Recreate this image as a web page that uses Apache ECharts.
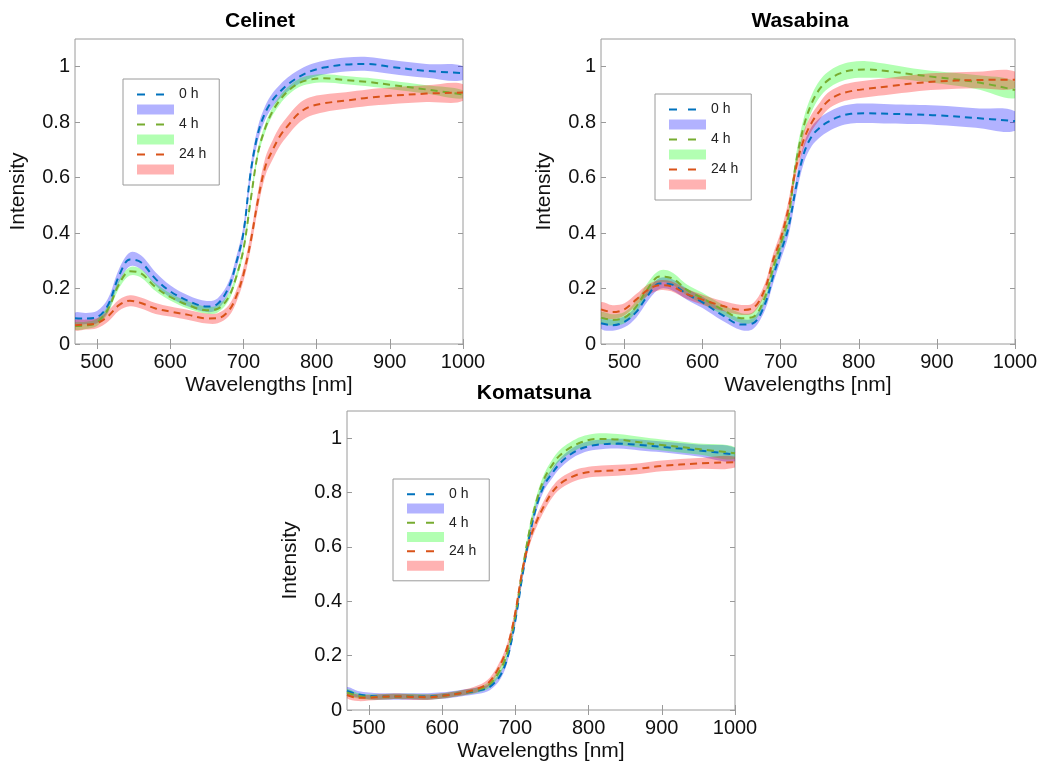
<!DOCTYPE html>
<html>
<head>
<meta charset="utf-8">
<title>Spectra</title>
<script src="https://cdn.jsdelivr.net/npm/echarts@6/dist/echarts.min.js"></script>
<style>
html, body { margin: 0; padding: 0; background: #fff; }
#chart { width: 1041px; height: 767px; }
</style>
</head>
<body>
<div id="chart"></div>
<script>
// wavelengths sampled along every curve
var wl = [470, 485, 500, 515, 530, 545, 560, 580, 600, 625, 650, 665, 680, 690, 700, 710, 720, 730, 740, 750, 760, 775, 790, 810, 840, 870, 900, 950, 1000];
var xTicks = [500, 600, 700, 800, 900, 1000];
var yTicks = [0, 0.2, 0.4, 0.6, 0.8, 1];
var hours = ['0 h', '4 h', '24 h'];
var titles = ['Celinet', 'Wasabina', 'Komatsuna'];

// Celinet mean + half band width
var cel0 = [0.093, 0.092, 0.097, 0.14, 0.245, 0.305, 0.295, 0.235, 0.19, 0.155, 0.135, 0.145, 0.205, 0.29, 0.40, 0.62, 0.76, 0.835, 0.88, 0.91, 0.935, 0.962, 0.982, 0.997, 1.008, 1.01, 1.0, 0.985, 0.977];
var cel0sd = [0.02, 0.02, 0.022, 0.024, 0.025, 0.025, 0.025, 0.024, 0.022, 0.02, 0.02, 0.02, 0.02, 0.022, 0.025, 0.025, 0.025, 0.025, 0.025, 0.025, 0.025, 0.025, 0.025, 0.025, 0.025, 0.025, 0.025, 0.025, 0.025];
var cel4 = [0.065, 0.067, 0.078, 0.125, 0.215, 0.262, 0.255, 0.205, 0.17, 0.14, 0.122, 0.127, 0.17, 0.24, 0.34, 0.52, 0.69, 0.78, 0.84, 0.88, 0.91, 0.94, 0.953, 0.958, 0.952, 0.945, 0.935, 0.918, 0.9];
var cel4sd = [0.013, 0.013, 0.013, 0.014, 0.015, 0.015, 0.015, 0.014, 0.013, 0.013, 0.013, 0.013, 0.013, 0.014, 0.015, 0.015, 0.015, 0.015, 0.015, 0.015, 0.015, 0.015, 0.015, 0.015, 0.015, 0.015, 0.015, 0.015, 0.015];
var cel24 = [0.068, 0.07, 0.075, 0.1, 0.14, 0.156, 0.148, 0.128, 0.117, 0.105, 0.092, 0.093, 0.12, 0.17, 0.25, 0.37, 0.52, 0.64, 0.70, 0.75, 0.785, 0.83, 0.855, 0.868, 0.878, 0.888, 0.895, 0.903, 0.907];
var cel24sd = [0.018, 0.018, 0.018, 0.02, 0.02, 0.02, 0.02, 0.02, 0.018, 0.018, 0.018, 0.018, 0.02, 0.022, 0.025, 0.028, 0.03, 0.033, 0.035, 0.035, 0.035, 0.035, 0.034, 0.032, 0.03, 0.03, 0.03, 0.03, 0.03];

// Wasabina
var was0 = [0.075, 0.068, 0.08, 0.115, 0.175, 0.218, 0.215, 0.18, 0.15, 0.105, 0.07, 0.075, 0.145, 0.24, 0.33, 0.42, 0.57, 0.69, 0.75, 0.78, 0.80, 0.82, 0.83, 0.832, 0.83, 0.828, 0.825, 0.815, 0.804];
var was0sd = [0.02, 0.02, 0.02, 0.02, 0.02, 0.02, 0.02, 0.02, 0.02, 0.02, 0.02, 0.02, 0.022, 0.025, 0.028, 0.03, 0.032, 0.034, 0.035, 0.035, 0.035, 0.035, 0.035, 0.035, 0.035, 0.035, 0.035, 0.035, 0.035];
var was4 = [0.095, 0.087, 0.095, 0.135, 0.2, 0.243, 0.238, 0.195, 0.165, 0.125, 0.093, 0.098, 0.17, 0.27, 0.36, 0.46, 0.66, 0.79, 0.87, 0.92, 0.95, 0.975, 0.987, 0.99, 0.983, 0.972, 0.962, 0.945, 0.916];
var was4sd = [0.02, 0.02, 0.02, 0.02, 0.022, 0.022, 0.022, 0.02, 0.02, 0.018, 0.018, 0.018, 0.02, 0.022, 0.025, 0.027, 0.028, 0.03, 0.03, 0.03, 0.03, 0.03, 0.03, 0.03, 0.025, 0.022, 0.022, 0.025, 0.03];
var was24 = [0.125, 0.115, 0.125, 0.16, 0.195, 0.212, 0.208, 0.18, 0.16, 0.138, 0.123, 0.13, 0.2, 0.3, 0.38, 0.49, 0.64, 0.74, 0.80, 0.84, 0.875, 0.9, 0.912, 0.92, 0.93, 0.94, 0.947, 0.952, 0.953];
var was24sd = [0.025, 0.025, 0.022, 0.02, 0.02, 0.018, 0.018, 0.018, 0.018, 0.018, 0.018, 0.018, 0.02, 0.022, 0.025, 0.027, 0.028, 0.03, 0.03, 0.03, 0.03, 0.03, 0.03, 0.03, 0.03, 0.03, 0.03, 0.03, 0.03];

// Komatsuna
var kom0 = [0.07, 0.058, 0.052, 0.05, 0.05, 0.05, 0.05, 0.05, 0.053, 0.062, 0.072, 0.085, 0.13, 0.2, 0.33, 0.5, 0.65, 0.76, 0.83, 0.87, 0.905, 0.94, 0.962, 0.975, 0.98, 0.975, 0.968, 0.955, 0.94];
var kom0sd = [0.014, 0.012, 0.012, 0.012, 0.012, 0.012, 0.012, 0.012, 0.012, 0.012, 0.012, 0.012, 0.014, 0.015, 0.016, 0.017, 0.018, 0.018, 0.018, 0.018, 0.018, 0.018, 0.018, 0.018, 0.018, 0.02, 0.02, 0.022, 0.025];
var kom4 = [0.065, 0.052, 0.048, 0.048, 0.05, 0.05, 0.05, 0.048, 0.052, 0.062, 0.075, 0.095, 0.15, 0.22, 0.35, 0.52, 0.67, 0.78, 0.855, 0.9, 0.935, 0.965, 0.985, 0.997, 0.995, 0.985, 0.975, 0.96, 0.945];
var kom4sd = [0.012, 0.01, 0.01, 0.01, 0.01, 0.01, 0.01, 0.01, 0.01, 0.01, 0.01, 0.012, 0.014, 0.015, 0.016, 0.017, 0.018, 0.018, 0.018, 0.02, 0.02, 0.02, 0.02, 0.02, 0.02, 0.02, 0.02, 0.02, 0.022];
var kom24 = [0.055, 0.045, 0.045, 0.048, 0.05, 0.05, 0.048, 0.047, 0.052, 0.062, 0.08, 0.105, 0.17, 0.24, 0.36, 0.52, 0.63, 0.7, 0.755, 0.8, 0.83, 0.855, 0.87, 0.878, 0.882, 0.888, 0.898, 0.907, 0.912];
var kom24sd = [0.012, 0.012, 0.01, 0.01, 0.01, 0.01, 0.01, 0.01, 0.01, 0.01, 0.012, 0.014, 0.015, 0.016, 0.018, 0.02, 0.02, 0.02, 0.02, 0.02, 0.02, 0.02, 0.02, 0.02, 0.02, 0.02, 0.02, 0.02, 0.02];

var means = [[cel0, cel4, cel24], [was0, was4, was24], [kom0, kom4, kom24]];
var spreads = [[cel0sd, cel4sd, cel24sd], [was0sd, was4sd, was24sd], [kom0sd, kom4sd, kom24sd]];

var lineColors = ['#0072BD', '#77AC30', '#D95319'];
var bandColors = ['rgba(0,0,255,0.3)', 'rgba(0,255,0,0.3)', 'rgba(255,0,0,0.3)'];
var FONT = '"Liberation Sans", Arial, sans-serif';
var BOX = '#9a9a9a';

var grids = [
	{ left: 75, top: 39, width: 388, height: 305 },
	{ left: 601, top: 39, width: 414, height: 305 },
	{ left: 347, top: 411, width: 388, height: 299 }
];
var legendPos = [
	{ left: 123, top: 79, lh: 15 },
	{ left: 655, top: 94, lh: 15 },
	{ left: 393, top: 479, lh: 14.3 }
];
var titlePos = [{ x: 260, y: 11 }, { x: 800, y: 11 }, { x: 534, y: 383 }];

function bandRenderer(mean, sd, fill) {
	return function (params, api) {
		var pts = [];
		for (var i = 0; i < wl.length; i++) {
			pts.push(api.coord([wl[i], mean[i] + sd[i]]));
		}
		for (var j = wl.length - 1; j >= 0; j--) {
			pts.push(api.coord([wl[j], mean[j] - sd[j]]));
		}
		var cs = params.coordSys;
		return {
			type: 'polygon',
			shape: { points: pts, smooth: 0.35 },
			style: { fill: fill, stroke: null },
			clipPath: { type: 'rect', shape: { x: cs.x, y: cs.y, width: cs.width, height: cs.height } }
		};
	};
}

var xAxes = [], yAxes = [], series = [], legends = [], titleList = [], gridList = [];
grids.forEach(function (g, gi) {
	gridList.push({ left: g.left, top: g.top, width: g.width, height: g.height,
		show: true, borderColor: BOX, borderWidth: 1, outerBoundsMode: 'none' });

	// bottom / top x axes (top one only carries the inside ticks)
	xAxes.push({
		type: 'value', gridIndex: gi, min: 470, max: 1000, position: 'bottom',
		name: 'Wavelengths [nm]', nameLocation: 'middle', nameGap: 31,
		nameTextStyle: { fontFamily: FONT, fontSize: 21, color: '#111' },
		axisLine: { show: false },
		axisTick: { inside: true, length: 5, customValues: xTicks, lineStyle: { color: BOX } },
		axisLabel: { customValues: xTicks, margin: 8, fontFamily: FONT, fontSize: 20, color: '#111',
			formatter: function (v) { return String(v); } },
		splitLine: { show: false }
	});
	xAxes.push({
		type: 'value', gridIndex: gi, min: 470, max: 1000, position: 'top',
		axisLine: { show: false },
		axisTick: { inside: true, length: 5, customValues: xTicks, lineStyle: { color: BOX } },
		axisLabel: { show: false },
		splitLine: { show: false }
	});
	yAxes.push({
		type: 'value', gridIndex: gi, min: 0, max: 1.1, position: 'left',
		name: 'Intensity', nameLocation: 'middle', nameGap: 46,
		nameTextStyle: { fontFamily: FONT, fontSize: 21, color: '#111' },
		axisLine: { show: false },
		axisTick: { inside: true, length: 5, customValues: yTicks, lineStyle: { color: BOX } },
		axisLabel: { customValues: yTicks, margin: 5, fontFamily: FONT, fontSize: 20, color: '#111',
			formatter: function (v) { return String(v); } },
		splitLine: { show: false }
	});
	yAxes.push({
		type: 'value', gridIndex: gi, min: 0, max: 1.1, position: 'right',
		axisLine: { show: false },
		axisTick: { inside: true, length: 5, customValues: yTicks, lineStyle: { color: BOX } },
		axisLabel: { show: false },
		splitLine: { show: false }
	});

	// shaded bands first, dashed means on top
	hours.forEach(function (h, k) {
		series.push({
			type: 'custom', name: h + ' SD', xAxisIndex: gi * 2, yAxisIndex: gi * 2,
			data: [[wl[0], means[gi][k][0]]], silent: true, z: 1,
			itemStyle: { color: bandColors[k] },
			renderItem: bandRenderer(means[gi][k], spreads[gi][k], bandColors[k])
		});
	});
	hours.forEach(function (h, k) {
		series.push({
			type: 'line', name: h, xAxisIndex: gi * 2, yAxisIndex: gi * 2,
			data: wl.map(function (x, i) { return [x, means[gi][k][i]]; }),
			smooth: 0.35, symbol: 'none', showSymbol: false, silent: true, z: 3,
			itemStyle: { color: lineColors[k] },
			lineStyle: { color: lineColors[k], width: 2, type: [7, 5] }
		});
	});

	var lp = legendPos[gi];
	var ldata = [];
	hours.forEach(function (h, k) {
		ldata.push({ name: h, itemStyle: { opacity: 0 },
			lineStyle: { color: lineColors[k], width: 2, type: [8, 11] } });
		ldata.push({ name: h + ' SD', icon: 'rect', itemStyle: { color: bandColors[k] } });
	});
	legends.push({
		orient: 'vertical', left: lp.left, top: lp.top, selectedMode: false,
		padding: [8, 13, 8, 13], itemGap: 0, itemWidth: 37, itemHeight: 10,
		borderColor: BOX, borderWidth: 1, backgroundColor: '#fff',
		textStyle: { fontFamily: FONT, fontSize: 14, color: '#222', lineHeight: lp.lh },
		formatter: function (n) { return n.indexOf('SD') > 0 ? ' ' : n; },
		data: ldata
	});

	titleList.push({
		text: titles[gi], left: titlePos[gi].x, top: titlePos[gi].y, textAlign: 'center', padding: 0,
		textStyle: { fontFamily: FONT, fontSize: 21, fontWeight: 'bold', color: '#000' }
	});
});

var chart = echarts.init(document.getElementById('chart'));
chart.setOption({
	backgroundColor: '#fff',
	animation: false,
	title: titleList,
	legend: legends,
	grid: gridList,
	xAxis: xAxes,
	yAxis: yAxes,
	series: series
});
</script>
</body>
</html>
